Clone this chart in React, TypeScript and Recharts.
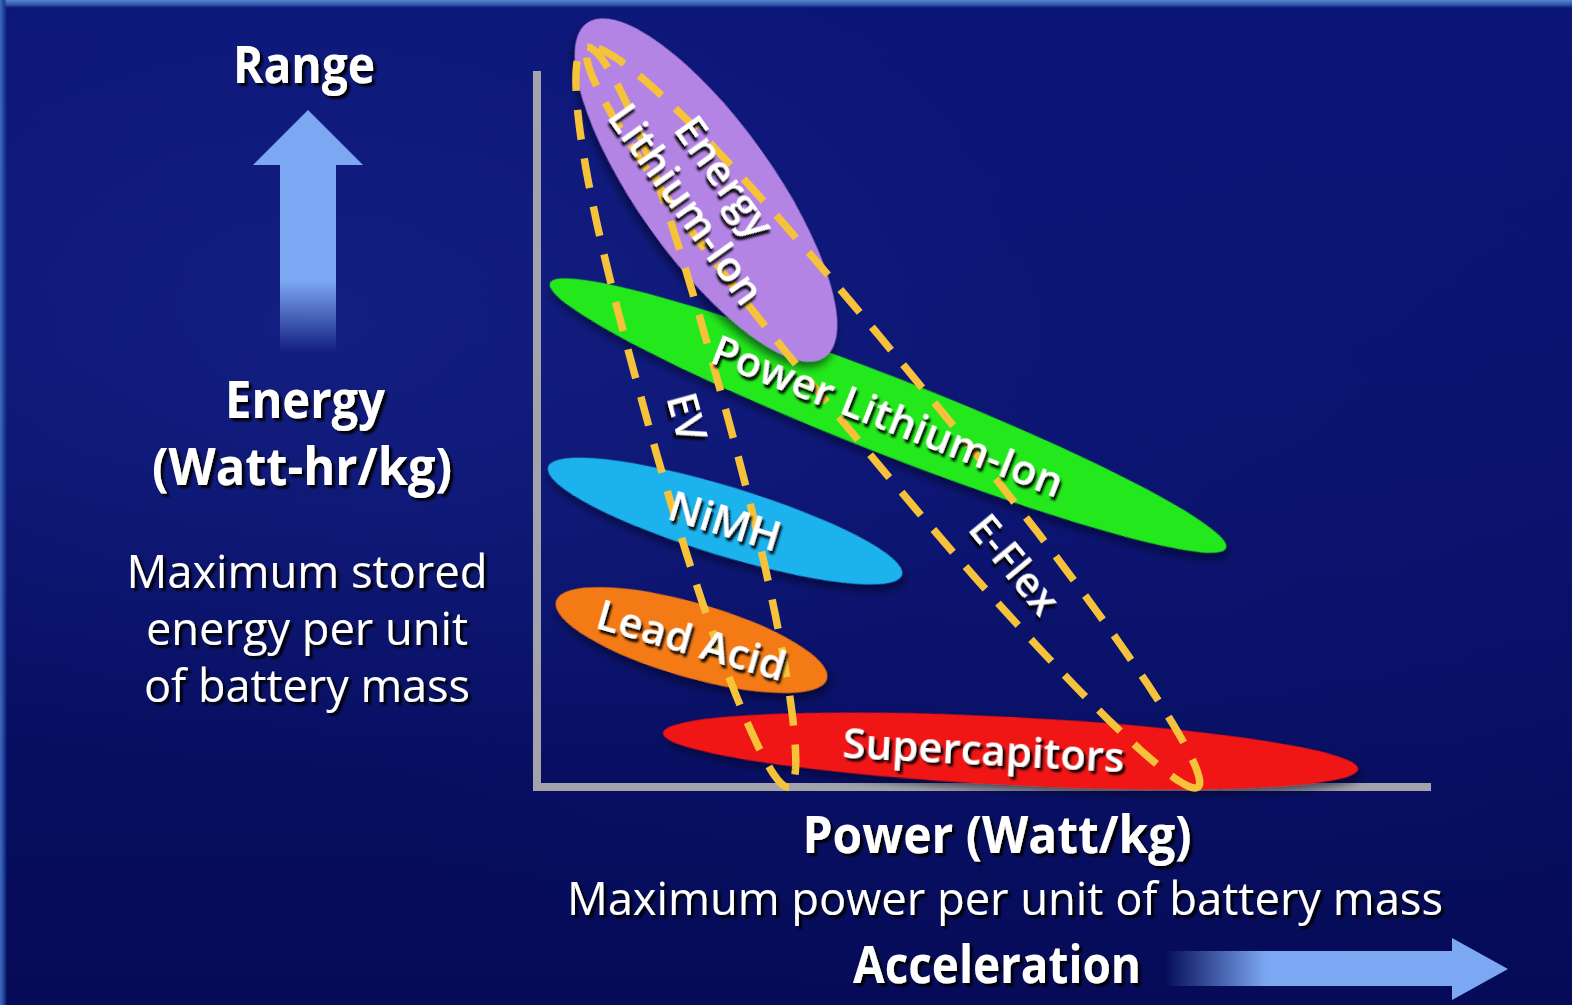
import React from 'react';
import { ScatterChart, Scatter, XAxis, YAxis, ReferenceLine } from 'recharts';

const W = 1572;
const H = 1005;

// battery chemistries, arbitrary power (x) / energy (y) units:
// both ends of the long axis plus one point on the side of each region
const regionNames = ['Power Lithium-Ion', 'Energy Lithium-Ion', 'NiMH', 'Lead Acid', 'Supercapitors'];
const regionTipA = [[1.3, 50.4], [5.0, 76.4], [1.1, 32.0], [1.9, 18.6], [12.6, 5.4]];
const regionTipB = [[68.9, 23.9], [28.8, 43.0], [36.5, 21.2], [29.0, 10.8], [82.1, 1.8]];
const regionSide = [[36.5, 40.7], [22.4, 63.7], [19.8, 29.9], [16.4, 18.3], [47.5, 7.0]];

// vehicle envelopes (dashed outlines)
const envelopeNames = ['EV', 'E-Flex'];
const envelopeTipA = [[4.8, 74.0], [5.2, 73.8]];
const envelopeTipB = [[25.2, 0.0], [66.1, 0.0]];
const envelopeSide = [[18.9, 37.6], [39.2, 39.1]];

// drawn extent of the two axes
const powerAxisEnd = 89;
const energyAxisEnd = 71.2;

const COLORS: Record<string, string> = {
  'Power Lithium-Ion': '#23e81f',
  'Energy Lithium-Ion': '#b384e4',
  NiMH: '#1fb2ee',
  'Lead Acid': '#f47a12',
  Supercapitors: '#f01212',
};
const DASH_COLOR = '#f5c23a';
const AXIS_COLOR = '#a3a3ab';
const ARROW_COLOR = '#7ca8f3';
const FONT = '"Open Sans", "Noto Sans", sans-serif';

const LABEL_LINES: Record<string, string[]> = {
  'Energy Lithium-Ion': ['Energy', 'Lithium-Ion'],
};
// label offset along the long axis, px
const LABEL_SHIFT: Record<string, number> = {
  'E-Flex': 190,
  Supercapitors: -27,
};

const toPoints = (a: number[], b: number[], s: number[]) => [
  { x: a[0], y: a[1] },
  { x: b[0], y: b[1] },
  { x: s[0], y: s[1] },
];

const geom = (points: any[]) => {
  if (!points || points.length < 3) return null;
  const [a, b, s] = points;
  const cx = (a.x + b.x) / 2;
  const cy = (a.y + b.y) / 2;
  const dx = b.x - a.x;
  const dy = b.y - a.y;
  const ang = Math.atan2(dy, dx);
  const rx = Math.hypot(dx, dy) / 2;
  const ry = Math.abs(Math.cos(ang) * (s.y - cy) - Math.sin(ang) * (s.x - cx));
  return { cx, cy, rx, ry, ang, deg: (ang * 180) / Math.PI };
};

// outline with a blunt upper end and a pointed lower end
const envelopePath = (g: { cx: number; cy: number; rx: number; ry: number; ang: number }) => {
  const c = Math.cos(g.ang);
  const s = Math.sin(g.ang);
  const parts: string[] = [];
  const n = 180;
  for (let i = 0; i <= n; i++) {
    const t = (i / n) * Math.PI * 2;
    const ct = Math.cos(t);
    const e = ct < 0 ? 2 / 2.8 : 1;
    const u = g.rx * Math.sign(ct) * Math.pow(Math.abs(ct), e);
    const v = g.ry * Math.sin(t);
    const x = g.cx + u * c - v * s;
    const y = g.cy + u * s + v * c;
    parts.push(`${i === 0 ? 'M' : 'L'}${x.toFixed(1)},${y.toFixed(1)}`);
  }
  return parts.join(' ') + ' Z';
};

const NoDot = () => null;

const fillShape = (name: string) => (props: any) => {
  const g = geom(props.points);
  if (!g) return null;
  return (
    <ellipse
      cx={g.cx}
      cy={g.cy}
      rx={g.rx}
      ry={g.ry}
      transform={`rotate(${g.deg} ${g.cx} ${g.cy})`}
      fill={COLORS[name]}
      filter="url(#blobShadow)"
    />
  );
};

const dashShape = () => (props: any) => {
  const g = geom(props.points);
  if (!g) return null;
  return (
    <path
      d={envelopePath(g)}
      fill="none"
      stroke={DASH_COLOR}
      strokeWidth={7.5}
      strokeDasharray="30 19"
    />
  );
};

const labelShape = (name: string, size: number) => (props: any) => {
  const g = geom(props.points);
  if (!g) return null;
  const shift = LABEL_SHIFT[name] || 0;
  const x = g.cx + shift * Math.cos(g.ang);
  const y = g.cy + shift * Math.sin(g.ang);
  const lines = LABEL_LINES[name] || [name];
  const lh = size * 1.12;
  return (
    <text
      x={x}
      y={y}
      transform={`rotate(${g.deg} ${x} ${y})`}
      textAnchor="middle"
      fill="#ffffff"
      fontFamily={FONT}
      fontWeight={600}
      fontSize={size}
      filter="url(#txtShadow)"
    >
      {lines.map((ln, i) => (
        <tspan key={ln} x={x} y={y + size * 0.36 + (i - (lines.length - 1) / 2) * lh}>
          {ln}
        </tspan>
      ))}
    </text>
  );
};

function Decorations() {
  const bold = { fontFamily: FONT, fontWeight: 700, fontSize: 52, fill: '#ffffff' };
  const plain = { fontFamily: FONT, fontWeight: 400, fontSize: 46, fill: '#ffffff' };
  return (
    <svg width={W} height={H} style={{ position: 'absolute', left: 0, top: 0 }}>
      <defs>
        <filter id="txtShadow" x="-20%" y="-40%" width="140%" height="180%">
          <feDropShadow dx="3" dy="3" stdDeviation="1.2" floodColor="#000000" floodOpacity="0.95" />
        </filter>
        <filter id="blobShadow" x="-20%" y="-40%" width="140%" height="180%">
          <feDropShadow dx="4" dy="5" stdDeviation="4" floodColor="#000010" floodOpacity="0.55" />
        </filter>
        <linearGradient id="upFade" x1="0" y1="0" x2="0" y2="1">
          <stop offset="0" stopColor={ARROW_COLOR} stopOpacity="1" />
          <stop offset="0.62" stopColor={ARROW_COLOR} stopOpacity="1" />
          <stop offset="1" stopColor={ARROW_COLOR} stopOpacity="0" />
        </linearGradient>
        <linearGradient id="rightFade" x1="0" y1="0" x2="1" y2="0">
          <stop offset="0" stopColor={ARROW_COLOR} stopOpacity="0" />
          <stop offset="0.35" stopColor={ARROW_COLOR} stopOpacity="1" />
          <stop offset="1" stopColor={ARROW_COLOR} stopOpacity="1" />
        </linearGradient>
      </defs>

      <polygon points="253,165 363,165 308,110" fill={ARROW_COLOR} />
      <rect x={280} y={164} width={56} height={188} fill="url(#upFade)" />

      <g filter="url(#txtShadow)" textAnchor="middle">
        <text x={304} y={83} textLength={142} lengthAdjust="spacingAndGlyphs" {...bold}>Range</text>
        <text x={305} y={418} textLength={160} lengthAdjust="spacingAndGlyphs" {...bold}>Energy</text>
        <text x={302} y={485} textLength={300} lengthAdjust="spacingAndGlyphs" {...bold}>(Watt-hr/kg)</text>
        <text x={307} y={588} textLength={361} lengthAdjust="spacingAndGlyphs" {...plain}>Maximum stored</text>
        <text x={307} y={645} textLength={322} lengthAdjust="spacingAndGlyphs" {...plain}>energy per unit</text>
        <text x={307} y={702} textLength={326} lengthAdjust="spacingAndGlyphs" {...plain}>of battery mass</text>
        <text x={997} y={853} textLength={389} lengthAdjust="spacingAndGlyphs" {...bold}>Power (Watt/kg)</text>
        <text x={1005} y={915} textLength={876} lengthAdjust="spacingAndGlyphs" {...plain}>
          Maximum power per unit of battery mass
        </text>
        <text x={997} y={983} textLength={288} lengthAdjust="spacingAndGlyphs" {...bold}>Acceleration</text>
      </g>

      <rect x={1165} y={951} width={290} height={35} fill="url(#rightFade)" />
      <polygon points="1452,938 1452,1000 1508,969" fill={ARROW_COLOR} />
    </svg>
  );
}

export default function App() {
  return (
    <div
      style={{
        position: 'fixed',
        left: 0,
        top: 0,
        width: W,
        height: H,
        overflow: 'hidden',
        background:
          'radial-gradient(ellipse 50% 45% at 20% 32%, rgba(34,52,160,0.35), rgba(34,52,160,0) 100%),' +
          'radial-gradient(ellipse 55% 50% at 65% 50%, rgba(18,28,130,0.3), rgba(18,28,130,0) 100%),' +
          'linear-gradient(180deg, #0b1577 0%, #0a126d 45%, #050b56 100%)',
      }}
    >
      <div
        style={{
          position: 'absolute',
          left: 0,
          top: 0,
          width: W,
          height: 8,
          background: 'linear-gradient(180deg, #5a86cc 0%, #2f56a8 60%, #0b1577 100%)',
        }}
      />
      <div
        style={{
          position: 'absolute',
          left: 0,
          top: 0,
          width: 7,
          height: H,
          background: 'linear-gradient(90deg, #3f6cbc 0%, #1e3c98 60%, rgba(11,21,119,0) 100%)',
        }}
      />
      <Decorations />
      <div style={{ position: 'absolute', left: 0, top: 0 }}>
        <ScatterChart width={W} height={H} margin={{ top: 7, right: 35, bottom: 218, left: 537 }}>
          <XAxis type="number" dataKey="x" domain={[0, 100]} hide />
          <YAxis type="number" dataKey="y" domain={[0, 78]} hide />
          {regionNames.map((name, i) => (
            <Scatter
              key={`fill-${name}`}
              name={name}
              data={toPoints(regionTipA[i], regionTipB[i], regionSide[i])}
              shape={NoDot}
              line={fillShape(name)}
              isAnimationActive={false}
            />
          ))}
          {envelopeNames.map((name, i) => (
            <Scatter
              key={`dash-${name}`}
              name={name}
              data={toPoints(envelopeTipA[i], envelopeTipB[i], envelopeSide[i])}
              shape={NoDot}
              line={dashShape()}
              isAnimationActive={false}
            />
          ))}
          {regionNames.map((name, i) => (
            <Scatter
              key={`label-${name}`}
              data={toPoints(regionTipA[i], regionTipB[i], regionSide[i])}
              shape={NoDot}
              line={labelShape(name, 42)}
              isAnimationActive={false}
            />
          ))}
          {envelopeNames.map((name, i) => (
            <Scatter
              key={`label-${name}`}
              data={toPoints(envelopeTipA[i], envelopeTipB[i], envelopeSide[i])}
              shape={NoDot}
              line={labelShape(name, 41)}
              isAnimationActive={false}
            />
          ))}
          <ReferenceLine
            segment={[{ x: 0, y: 0 }, { x: powerAxisEnd, y: 0 }]}
            stroke={AXIS_COLOR}
            strokeWidth={8}
            strokeLinecap="square"
          />
          <ReferenceLine
            segment={[{ x: 0, y: 0 }, { x: 0, y: energyAxisEnd }]}
            stroke={AXIS_COLOR}
            strokeWidth={8}
            strokeLinecap="square"
          />
        </ScatterChart>
      </div>
    </div>
  );
}
